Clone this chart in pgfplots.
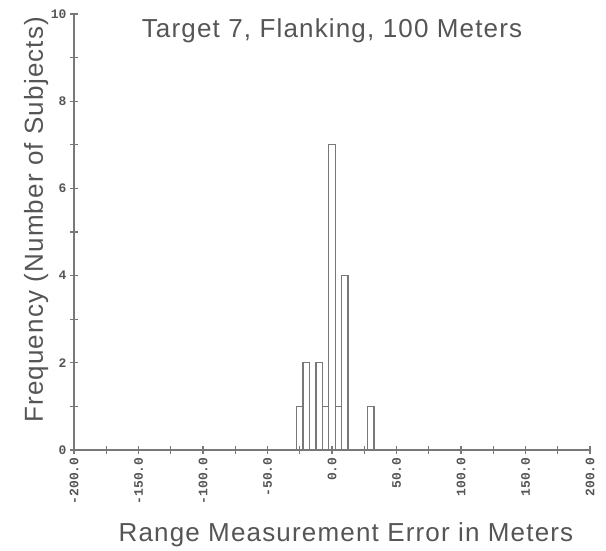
\documentclass[border=0pt]{standalone}
\usepackage{pgfplots}
\pgfplotsset{compat=1.18}
\usepackage{fontspec}
\setmainfont{Liberation Sans}
\newfontfamily\labelfont[LetterSpace=4.5]{Liberation Sans}
\newfontfamily\tickfont{Liberation Mono}
\definecolor{linegray}{RGB}{120,120,120}
\definecolor{textgray}{RGB}{85,85,85}
\begin{document}
\begin{tikzpicture}
\begin{axis}[
  scale only axis, width=516pt, height=436pt,
  xmin=-200, xmax=200, ymin=0, ymax=10,
  axis lines=left,
  axis line style={-, linegray, line width=1.6pt},
  xtick={-200,-150,...,200}, minor x tick num=1,
  ytick={0,2,...,10}, minor y tick num=1,
  tick align=center, major tick length=8pt, minor tick length=8pt,
  every tick/.style={linegray, line width=1.2pt},
  /pgf/number format/assume math mode=true,
  xticklabel={\pgfmathprintnumber[fixed, fixed zerofill, precision=1, 1000 sep={}]{\tick}},
  xticklabel style={font=\tickfont\bfseries\fontsize{13}{13}\selectfont, rotate=90, anchor=east, text=textgray},
  yticklabel style={font=\tickfont\bfseries\fontsize{13}{13}\selectfont, text=textgray},
  xlabel={Range Measurement Error in Meters},
  xlabel style={at={(axis description cs:0.527,-0.211)}, anchor=base, font=\labelfont\fontsize{26}{30}\selectfont, text=textgray},
  ylabel={Frequency (Number of Subjects)},
  ylabel style={at={(axis description cs:-0.0601,0.528)}, anchor=base, font=\labelfont\fontsize{26}{30}\selectfont, text=textgray},
  clip=false,
]
\addplot[ybar, bar width=5, bar shift=0pt, draw=linegray, fill=none, line width=1.3pt]
  coordinates {(-25,1) (-20,2) (-10,2) (-5,1) (0,7) (5,1) (10,4) (30,1)};
\node[anchor=base, font=\labelfont\fontsize{26}{30}\selectfont, text=textgray] at (axis description cs:0.5,0.945) {Target 7, Flanking, 100 Meters};
\end{axis}
\pgfresetboundingbox
\path (current axis.south west) ++(-74pt,-101pt) rectangle ++(606pt,551pt);
\end{tikzpicture}
\end{document}
